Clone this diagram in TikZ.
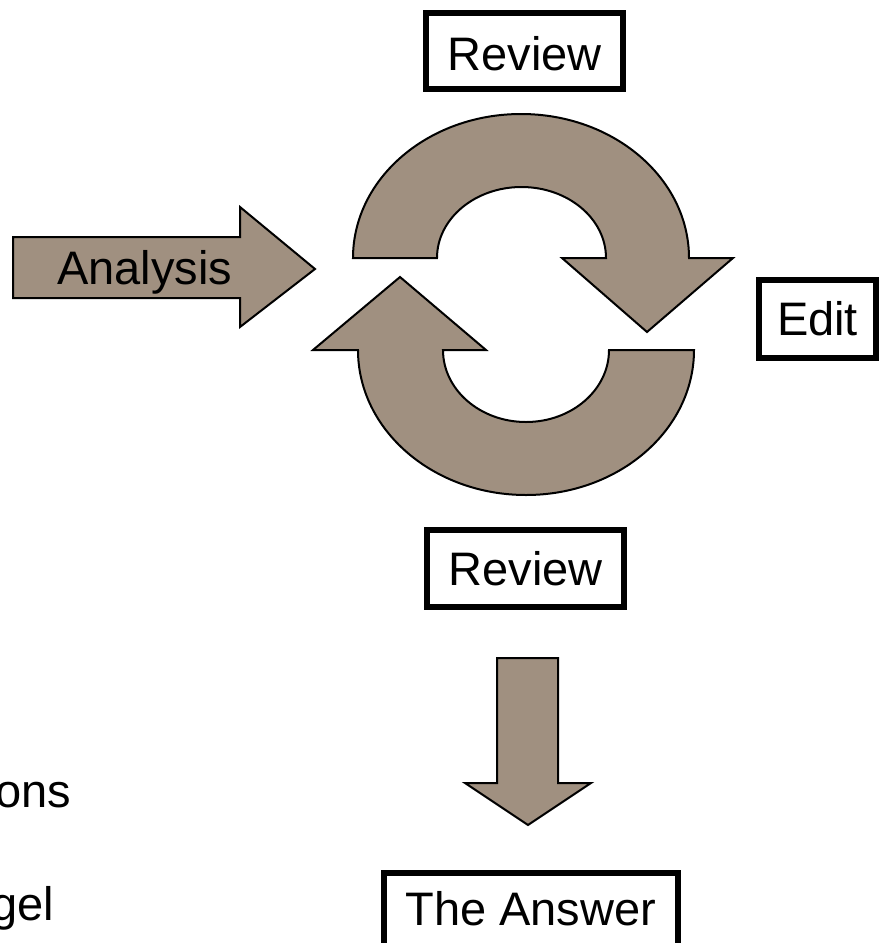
\documentclass[tikz,border=0pt]{standalone}
\usepackage{fontspec}
\setmainfont{Liberation Sans}
\definecolor{taupe}{RGB}{160,144,128}
\tikzset{
  shapearrow/.style={fill=taupe, draw=black, line width=2pt, line join=miter},
  labelbox/.style={draw=black, line width=5.5pt, inner sep=0pt, align=center, font=\fontsize{47}{56}\selectfont},
  plaintext/.style={inner sep=0pt, font=\fontsize{47}{56}\selectfont}
}
\begin{document}
\begin{tikzpicture}[x=1pt,y=-1pt]
\useasboundingbox (0,0) rectangle (880,943);
\clip (0,0) rectangle (880,943);
% Analysis arrow
\draw[shapearrow] (13,237) -- (240,237) -- (240,207) -- (315,269) -- (240,327) -- (240,298) -- (13,298) -- cycle;
\node[plaintext, anchor=base west] (analysis) at (57,284) {Analysis};
% top curved arrow
\draw[shapearrow] (437,258) -- (353,258)
  arc[start angle=180, end angle=360, x radius=168, y radius=144]
  -- (733,258) -- (647,332) -- (562,258) -- (606,258)
  arc[start angle=0, end angle=-180, x radius=84.5, y radius=71] -- cycle;
% bottom curved arrow
\draw[shapearrow] (609,350) -- (694,350)
  arc[start angle=0, end angle=180, x radius=168, y radius=145]
  -- (313,350) -- (400,277) -- (486,350) -- (443,350)
  arc[start angle=180, end angle=0, x radius=83, y radius=72] -- cycle;
% down arrow
\draw[shapearrow] (497,658) -- (558,658) -- (558,783) -- (591,783) -- (528,825) -- (465,783) -- (497,783) -- cycle;
% boxes
\node[labelbox, minimum width=197pt, text height=57pt, text depth=19pt] (review1) at (524.5,51) {Review};
\node[labelbox, minimum width=197pt, text height=55pt, text depth=22pt] (review2) at (525.5,568.5) {Review};
\node[labelbox, minimum width=117pt, text height=55pt, text depth=23pt] (edit) at (817.5,319) {Edit};
\node[labelbox, minimum width=294pt, text height=53pt, text depth=80pt, anchor=north west] (answer) at (381,870) {The Answer};
% cut-off texts at left
\node[plaintext, anchor=base east] (ons) at (71,807) {ons};
\node[plaintext, anchor=base east] (gel) at (54,920) {gel};
\end{tikzpicture}
\end{document}
